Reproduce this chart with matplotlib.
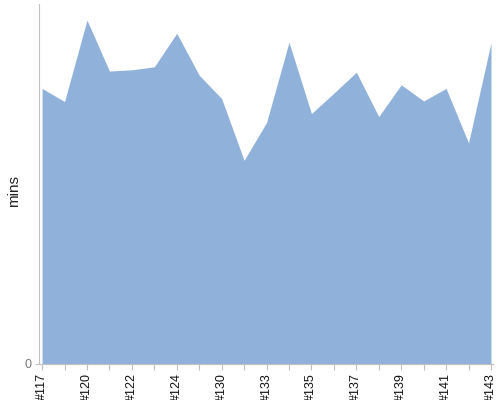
import numpy as np
import matplotlib
matplotlib.use("Agg")
import matplotlib.pyplot as plt

# build ids (only every other one gets a visible label)
builds = ["#117", "#118", "#120", "#121", "#122", "#123", "#124", "#125",
          "#130", "#131", "#133", "#134", "#135", "#136", "#137", "#138",
          "#139", "#140", "#141", "#142", "#143"]
mins = [45.9, 43.7, 57.3, 48.8, 49.0, 49.5, 55.1, 48.1, 44.2, 33.9, 40.2,
        53.6, 41.7, 45.1, 48.6, 41.2, 46.5, 43.8, 45.9, 36.8, 53.5]

plt.rcParams['font.family'] = ['Liberation Sans', 'DejaVu Sans']

fig = plt.figure(figsize=(5, 4), dpi=100)
ax = fig.add_axes([0.077, 0.09125, 0.909, 0.899])

x = np.arange(len(builds))
ax.fill_between(x, 0, mins, color='#8fb1da', linewidth=0)

ax.set_xlim(-0.16, len(builds) - 1 + 0.09)
ax.set_ylim(0, 60)

ax.set_xticks(x)
ax.set_xticklabels([b if i % 2 == 0 else "" for i, b in enumerate(builds)],
                   rotation=90, fontsize=9, color='#111111')
ax.set_yticks([0])
ax.set_yticklabels(["0"], fontsize=9, color='#777777')
ax.set_ylabel("mins", fontsize=11, color='#222222')
ax.yaxis.set_label_coords(-0.038, 0.48)

for s in ['top', 'right']:
    ax.spines[s].set_visible(False)
for s in ['left', 'bottom']:
    ax.spines[s].set_color('#c0c0c0')
ax.tick_params(axis='x', length=4, color='#c0c0c0', pad=3)
ax.tick_params(axis='y', length=3, color='#c0c0c0', pad=2)

fig.savefig("out.png", dpi=100)
